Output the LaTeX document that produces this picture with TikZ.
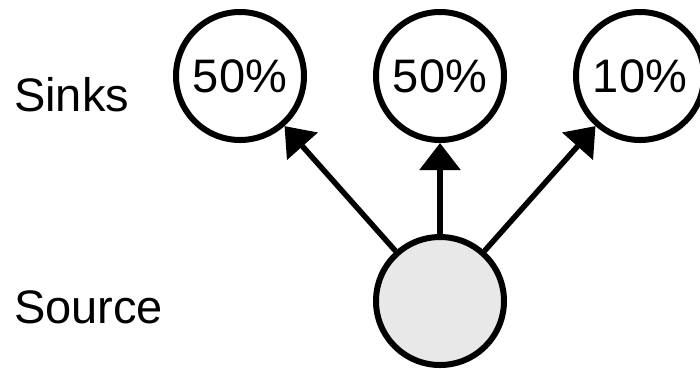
\documentclass[tikz,border=0pt]{standalone}
\usepackage{fontspec}
\setmainfont{Liberation Sans}
\usetikzlibrary{arrows.meta}
\definecolor{srcfill}{RGB}{232,232,232}
\begin{document}
\begin{tikzpicture}[x=1pt,y=-1pt,
  sink/.style={circle, draw=black, line width=6pt, fill=white, minimum size=128pt, inner sep=0pt, font=\fontsize{47}{56}\selectfont},
  src/.style={sink, fill=srcfill},
  lbl/.style={anchor=base west, inner sep=0pt, font=\fontsize{47}{56}\selectfont},
  conn/.style={line width=5.5pt, -{Triangle[length=27pt,width=40pt]}}]
\useasboundingbox (0,0) rectangle (700,368);
\node[lbl] (sinks) at (14,111) {Sinks};
\node[lbl] (source) at (14,323) {Source};
\node[sink] (s1) at (240,76) {50\%};
\node[sink] (s2) at (440,76) {50\%};
\node[sink] (s3) at (640,76) {10\%};
\node[src] (src) at (440,301) {};
\draw[conn] (src) -- (s1);
\draw[conn] (src) -- (s2);
\draw[conn] (src) -- (s3);
\end{tikzpicture}
\end{document}
